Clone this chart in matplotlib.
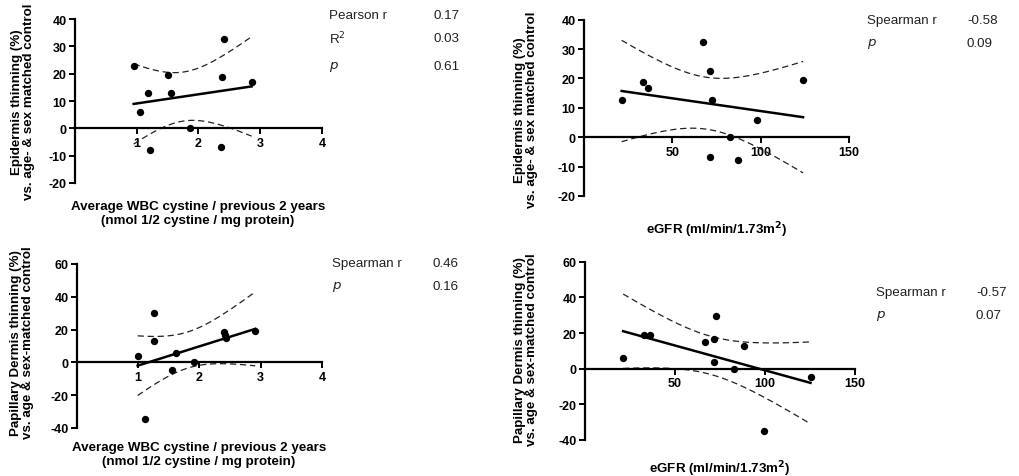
import numpy as np
import matplotlib
matplotlib.use("Agg")
import matplotlib.pyplot as plt

plt.rcParams['font.family'] = ['Liberation Sans', 'DejaVu Sans']
plt.rcParams['axes.unicode_minus'] = False

# ---------------- data ----------------
wbc_epi_x = [0.95, 1.06, 1.19, 1.21, 1.50, 1.56, 1.86, 2.37, 2.41, 2.38, 2.86]
wbc_epi_y = [22.7, 6.0, 12.9, -7.8, 19.5, 12.9, 0.2, -7.0, 32.8, 18.8, 17.1]

egfr_epi_x = [21.3, 33.2, 36.0, 67.2, 71.1, 72.3, 71.1, 82.5, 87.4, 98.1, 124.0]
egfr_epi_y = [12.8, 18.8, 16.9, 32.5, 22.4, 12.8, -6.8, 0.2, -7.9, 6.0, 19.4]

wbc_pap_x = [0.99, 1.11, 1.25, 1.26, 1.55, 1.61, 1.91, 2.40, 2.42, 2.44, 2.91]
wbc_pap_y = [3.9, -34.5, 30.0, 12.8, -4.9, 5.9, 0.0, 18.7, 16.6, 15.1, 19.1]

egfr_pap_x = [21.2, 32.9, 36.2, 66.9, 71.9, 73.0, 71.7, 82.7, 88.1, 99.4, 125.3]
egfr_pap_y = [5.8, 19.1, 18.7, 15.1, 16.6, 29.7, 3.7, 0.0, 12.9, -34.8, -4.9]

stats_tl = [("Pearson r", "0.17"), ("R$^2$", "0.03"), ("$p$", "0.61")]
stats_tr = [("Spearman r", "-0.58"), ("$p$", "0.09")]
stats_bl = [("Spearman r", "0.46"), ("$p$", "0.16")]
stats_br = [("Spearman r", "-0.57"), ("$p$", "0.07")]

xlab_wbc = "Average WBC cystine / previous 2 years\n(nmol 1/2 cystine / mg protein)"
xlab_egfr = "eGFR (ml/min/1.73m$^\\mathbf{2}$)"
ylab_epi = "Epidermis thinning (%)\nvs. age- & sex matched control"
ylab_pap = "Papillary Dermis thinning (%)\nvs. age & sex-matched control"

T975_DF9 = 2.262  # t quantile for 95% CI, n=11

W, H = 1020, 477
fig = plt.figure(figsize=(W / 100, H / 100), dpi=100)

LABEL_FS = 9.6
TICK_FS = 9
STAT_FS = 9.6


def px_axes(l, r, t, b):
    return fig.add_axes([l / W, 1 - b / H, (r - l) / W, (b - t) / H])


def panel(ax, x, y, xlim, ylim, xticks, yticks):
    x = np.asarray(x, float)
    y = np.asarray(y, float)
    n = len(x)
    slope, icpt = np.polyfit(x, y, 1)
    xs = np.linspace(x.min(), x.max(), 200)
    fit = icpt + slope * xs
    res = y - (icpt + slope * x)
    s = np.sqrt(np.sum(res ** 2) / (n - 2))
    sxx = np.sum((x - x.mean()) ** 2)
    se = s * np.sqrt(1 / n + (xs - x.mean()) ** 2 / sxx)
    ax.plot(xs, fit, color='black', lw=1.8, zorder=3)
    ax.plot(xs, fit + T975_DF9 * se, color='#222222', lw=0.9, ls=(0, (5, 3)), zorder=2)
    ax.plot(xs, fit - T975_DF9 * se, color='#222222', lw=0.9, ls=(0, (5, 3)), zorder=2)
    ax.scatter(x, y, s=28, color='black', zorder=4, linewidths=0)
    ax.set_xlim(xlim)
    ax.set_ylim(ylim)
    ax.set_xticks(xticks)
    ax.set_yticks(yticks)
    for sp in ('top', 'right'):
        ax.spines[sp].set_visible(False)
    ax.spines['bottom'].set_position(('data', 0))
    ax.spines['left'].set_linewidth(1.6)
    ax.spines['bottom'].set_linewidth(1.6)
    ax.tick_params(axis='both', width=1.4, length=4, labelsize=TICK_FS, pad=2)
    for lab in ax.get_xticklabels() + ax.get_yticklabels():
        lab.set_fontweight('bold')
    ax.patch.set_alpha(0)


def stats(items, xl, xv, ys):
    for (lab, val), yy in zip(items, ys):
        fig.text(xl / W, 1 - yy / H, lab, fontsize=STAT_FS, va='center', ha='left', color='#222222')
        fig.text(xv / W, 1 - yy / H, val, fontsize=STAT_FS, va='center', ha='left', color='#222222')


def ylab(x, y, s):
    fig.text(x / W, 1 - y / H, s, rotation=90, ha='center', va='center',
             fontsize=LABEL_FS, fontweight='bold', linespacing=1.1)


def xlab(x, y, s):
    fig.text(x / W, 1 - y / H, s, ha='center', va='center',
             fontsize=LABEL_FS, fontweight='bold', linespacing=1.2)


# top-left
ax1 = px_axes(75, 322, 20, 184)
panel(ax1, wbc_epi_x, wbc_epi_y, (0, 4), (-20, 40), [1, 2, 3, 4], [-20, -10, 0, 10, 20, 30, 40])
ylab(23, 102, ylab_epi)
xlab(198, 214, xlab_wbc)
stats(stats_tl, 329, 434, [16, 39, 67])

# top-right
ax2 = px_axes(584, 849, 20.7, 197)
panel(ax2, egfr_epi_x, egfr_epi_y, (0, 150), (-20, 40), [50, 100, 150], [-20, -10, 0, 10, 20, 30, 40])
ylab(526, 110, ylab_epi)
xlab(717, 230, xlab_egfr)
stats(stats_tr, 867, 967, [21, 44])

# bottom-left
ax3 = px_axes(77, 322, 265, 429)
panel(ax3, wbc_pap_x, wbc_pap_y, (0, 4), (-40, 60), [1, 2, 3, 4], [-40, -20, 0, 20, 40, 60])
ylab(22, 343, ylab_pap)
xlab(199, 455, xlab_wbc)
stats(stats_bl, 332, 433, [264, 287])

# bottom-right
ax4 = px_axes(585, 855, 262.7, 441)
panel(ax4, egfr_pap_x, egfr_pap_y, (0, 150), (-40, 60), [50, 100, 150], [-40, -20, 0, 20, 40, 60])
ylab(526, 350, ylab_pap)
xlab(720, 469, xlab_egfr)
stats(stats_br, 876, 976, [293, 316])

fig.savefig("out.png", dpi=100)
